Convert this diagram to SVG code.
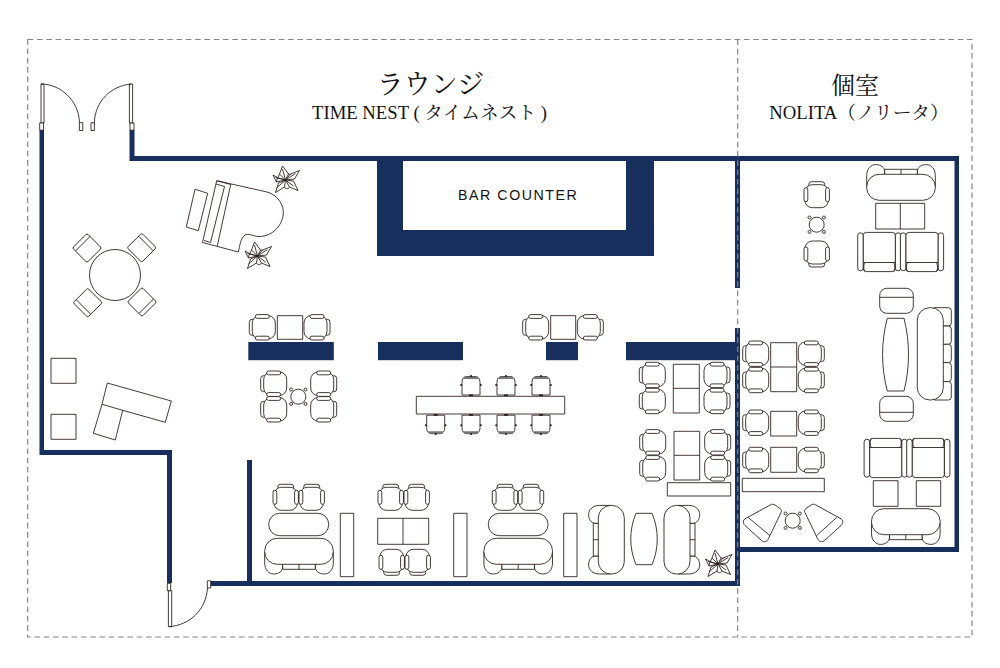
<svg xmlns="http://www.w3.org/2000/svg" xmlns:xlink="http://www.w3.org/1999/xlink" width="1000" height="668" viewBox="0 0 1000 668">
<style>
.f{fill:#fff;stroke:#231815;stroke-width:.85;stroke-linejoin:round}
.n{fill:none;stroke:#231815;stroke-width:.85}
.w{fill:#172f5c;stroke:none}
.d{fill:none;stroke:#858585;stroke-width:1.2;stroke-dasharray:5.6 3.7}
.t{font-family:"Liberation Serif","Noto Serif CJK JP","Noto Sans CJK JP",serif;fill:#111;text-anchor:middle}
.b{font-family:"Liberation Sans",sans-serif;font-size:14.2px;letter-spacing:1.55px;fill:#111;text-anchor:middle}
</style>
<defs>
<g id="chair"><rect class="f" x="-8" y="-13" width="16" height="6" rx="2.8"/><rect class="f" x="-11.8" y="-10" width="23.6" height="23" rx="7.5"/><rect class="f" x="-12.7" y="-7" width="3.8" height="14" rx="1.9"/><rect class="f" x="8.9" y="-7" width="3.8" height="14" rx="1.9"/></g>
<g id="sofa"><path class="f" d="M-34.3,0 V11 C-34.3,18 -30,22 -25.3,22 C-20,22 -16.3,19 -16.3,15 V0Z"/><path class="f" d="M34.3,0 V11 C34.3,18 30,22 25.3,22 C20,22 16.3,19 16.3,15 V0Z"/><rect class="f" x="-16.3" y="10" width="32.6" height="7.3"/><path class="n" d="M0,12 V17.3"/><rect class="f" x="-34.3" y="-13.7" width="68.6" height="26" rx="12.5"/></g>
<g id="big"><rect class="f" x="-21.6" y="-18.8" width="5.6" height="38" rx="2.8"/><rect class="f" x="16" y="-18.8" width="5.6" height="38" rx="2.8"/><rect class="f" x="-16" y="-19.6" width="32" height="39.2" rx="3"/><path class="n" d="M-16,-10.5 H16 M-14,-19.6 C-16,-19 -16,-12 -14,-10.5 M14,-19.6 C16,-19 16,-12 14,-10.5"/></g>
<g id="din"><path class="f" d="M-9,9.5 V-3 C-9,-7 -7,-9 -4,-9 H4 C7,-9 9,-7 9,-3 V9.5 Z"/><path fill="#777" d="M-8,-6.5 C-7,-8.4 -6,-9 -4,-9 H4 C6,-9 7,-8.4 8,-6.5 Z"/><circle cx="-9.8" cy="-.5" r="1" fill="#231815"/><circle cx="9.8" cy="-.5" r="1" fill="#231815"/><circle cx="0" cy="-9.4" r="1" fill="#231815"/><rect x="-2" y="9" width="4" height="1.6" fill="#231815"/></g>
<g id="lchair"><rect class="f" x="-10.3" y="-10.3" width="20.6" height="20.6" rx="1.6"/><path class="n" d="M-10.3,-6 H10.3"/></g>
<g id="stable"><circle class="f" r="7.5"/><circle class="f" cx="-7.2" cy="-7.2" r="1.5"/><circle class="f" cx="7.2" cy="-7.2" r="1.5"/><circle class="f" cx="-7.2" cy="7.2" r="1.5"/><circle class="f" cx="7.2" cy="7.2" r="1.5"/></g>
<g id="plant"><path class="f" d="M0,0 L-6,-6 L-3,-14 L3,-6 Z"/><path class="f" d="M0,0 L-1,7 L-10,12.5 L-7,3 Z"/><path class="f" d="M0,0 L-7,-2 L-12.5,-5 L-9,2 Z"/><path class="f" d="M0,0 L5,-6 L14,-9.5 L9,-1 Z"/><path class="f" d="M0,0 L8,1 L12.5,10.5 L4,7 Z"/><path class="n" d="M0,0 L-9,8 M0,0 L8,6 M0,0 L-10,-2.5 M0,0 L10,-6.5 M0,0 L-3,-11 M-1,7 C0,9.5 3,9 4,7 M-9,2 C-9,-1 -7,-3 -6,-6 M3,-6 C5,-6 6,-5 5,-6"/></g>
</defs>

<rect width="1000" height="668" fill="#fff"/>

<g id="walls">
<path class="w" d="M39.5,130 H44 V450 H172 V583 H167 V455 H39.5 Z"/>
<path class="w" d="M129.5,130 H134.5 V156 H959 V552 H740 V586 H210.5 V581 H247 V460 H252 V581 H735 V328 H740 V547 H954.5 V161 H740 V288 H735 V161 H129.5 Z"/>
<path class="w" d="M377,161 H403 V230 H626 V161 H654 V256 H377 Z"/>
<rect class="w" x="248.3" y="342" width="85.5" height="18.2"/>
<rect class="w" x="378" y="342" width="85" height="18.2"/>
<rect class="w" x="546" y="342" width="32" height="18.2"/>
<rect class="w" x="626" y="342" width="110" height="18.2"/>
</g>

<g id="frame">
<rect class="d" x="27.7" y="39.5" width="944.3" height="597.5"/>
<path class="d" d="M737.7,39.5 V637"/>
</g>

<g id="doors">
<rect class="f" x="41" y="84" width="3" height="39"/><rect class="f" x="39.7" y="123" width="3.8" height="7.2"/>
<path class="n" d="M41,84 C60,84 79,100 79.5,123"/><rect class="f" x="79.4" y="122.7" width="3.4" height="7.8"/>
<rect class="f" x="129.4" y="84" width="3.2" height="39"/><rect class="f" x="130" y="123" width="4" height="7.2"/>
<path class="n" d="M131,84 C111,86 95,101 94.3,123"/><rect class="f" x="91" y="122.7" width="3.4" height="7.8"/>
<rect class="f" x="168.4" y="590.7" width="3.3" height="36"/><rect class="f" x="167.3" y="583.3" width="3.4" height="7.4"/>
<path class="n" d="M169,626.7 C190,625 206,610 207.5,588"/><rect class="f" x="207.3" y="580.8" width="3.4" height="7.2"/>
</g>

<g id="piano">
<path class="f" d="M216.7,180.7 L267,192 C278,195 284,205 283.3,214 C282,227 271,237 258,236.5 C253,236 248,233 245,235 C240,239 240,246 238.3,252 L202.5,242.5 Z"/>
<path class="n" d="M216.7,180.7 L230.7,184.5 L217.3,246 M216,184 L224.5,186.5 L210.5,242.5 L204,240.5"/>
<path class="f" d="M195,189.3 L207.7,193.3 L198.3,230.7 L186.3,227 Z"/>
</g>
<use id="plant1" href="#plant" xlink:href="#plant" transform="translate(285.5,180)"/>
<use id="plant2" href="#plant" xlink:href="#plant" transform="translate(257.5,256)"/>
<use id="plant3" href="#plant" xlink:href="#plant" transform="translate(718,564)"/>

<g id="round-table">
<circle class="f" cx="115" cy="275" r="25.5"/>
<use href="#lchair" xlink:href="#lchair" transform="translate(87,248) rotate(-45)"/>
<use href="#lchair" xlink:href="#lchair" transform="translate(141.7,247.7) rotate(45)"/>
<use href="#lchair" xlink:href="#lchair" transform="translate(87.7,302.7) rotate(-135)"/>
<use href="#lchair" xlink:href="#lchair" transform="translate(142,302) rotate(135)"/>
</g>

<g id="reception">
<rect class="f" x="51" y="358.3" width="25" height="25"/>
<rect class="f" x="51" y="414.3" width="25" height="25"/>
<path class="f" d="M107.3,383 L171.3,401 L165.3,422.3 L122.7,410.3 L115.3,440 L93.3,433.3 L102,404.3 Z"/>
<path class="n" d="M102,404.3 L122.7,410.3"/>
</g>

<g id="bar"><text class="b" x="518.2" y="200">BAR COUNTER</text></g>

<g id="lounge-left">
<use href="#chair" xlink:href="#chair" transform="translate(262.3,327.3) rotate(-90)"/>
<rect class="f" x="277.3" y="315.7" width="25.4" height="23.6"/>
<use href="#chair" xlink:href="#chair" transform="translate(317,327.3) rotate(90)"/>
<use href="#chair" xlink:href="#chair" transform="translate(273.7,383.7) rotate(-90)"/>
<use href="#chair" xlink:href="#chair" transform="translate(273.7,409.3) rotate(-90)"/>
<use href="#chair" xlink:href="#chair" transform="translate(323.7,383.7) rotate(90)"/>
<use href="#chair" xlink:href="#chair" transform="translate(323.7,409.3) rotate(90)"/>
<use href="#stable" xlink:href="#stable" transform="translate(298.3,396.7)"/>
</g>

<g id="lounge-top-mid">
<use href="#chair" xlink:href="#chair" transform="translate(535.7,327.3) rotate(-90)"/>
<rect class="f" x="550.7" y="315.7" width="25" height="23.6"/>
<use href="#chair" xlink:href="#chair" transform="translate(590.3,327.3) rotate(90)"/>
</g>

<g id="long-table">
<use href="#din" xlink:href="#din" transform="translate(471,385.5)"/>
<use href="#din" xlink:href="#din" transform="translate(506,385.5)"/>
<use href="#din" xlink:href="#din" transform="translate(541,385.5)"/>
<use href="#din" xlink:href="#din" transform="translate(435.7,424.7) rotate(180)"/>
<use href="#din" xlink:href="#din" transform="translate(471,424.7) rotate(180)"/>
<use href="#din" xlink:href="#din" transform="translate(506,424.7) rotate(180)"/>
<use href="#din" xlink:href="#din" transform="translate(541,424.7) rotate(180)"/>
<rect class="f" x="416.3" y="396.3" width="148.4" height="17.7"/>
</g>

<g id="lounge-right">
<use href="#chair" xlink:href="#chair" transform="translate(652.3,375) rotate(-90)"/>
<use href="#chair" xlink:href="#chair" transform="translate(652.3,401) rotate(-90)"/>
<use href="#chair" xlink:href="#chair" transform="translate(717,375) rotate(90)"/>
<use href="#chair" xlink:href="#chair" transform="translate(717,401) rotate(90)"/>
<rect class="f" x="673.3" y="364.3" width="26" height="48.7"/><path class="n" d="M673.3,388.3 H699.3"/>
<use href="#chair" xlink:href="#chair" transform="translate(652.7,442.3) rotate(-90)"/>
<use href="#chair" xlink:href="#chair" transform="translate(652.7,468.3) rotate(-90)"/>
<use href="#chair" xlink:href="#chair" transform="translate(717.7,442.3) rotate(90)"/>
<use href="#chair" xlink:href="#chair" transform="translate(717.7,468.3) rotate(90)"/>
<rect class="f" x="674" y="431.3" width="25.7" height="48.7"/><path class="n" d="M674,455.3 H699.7"/>
<rect class="f" x="667.3" y="482.7" width="63.4" height="13.3"/>
</g>

<g id="lounge-bottom">
<use href="#chair" xlink:href="#chair" transform="translate(285.7,497.3)"/>
<use href="#chair" xlink:href="#chair" transform="translate(311.7,497.3)"/>
<rect class="f" x="268.7" y="513.3" width="60" height="22.4" rx="11"/>
<use href="#sofa" xlink:href="#sofa" transform="translate(299,552)"/>
<rect class="f" x="340.3" y="513.3" width="13.4" height="63.4"/>
<use href="#chair" xlink:href="#chair" transform="translate(390.7,497.3)"/>
<use href="#chair" xlink:href="#chair" transform="translate(416.7,497.3)"/>
<rect class="f" x="377.7" y="518.3" width="51" height="26"/><path class="n" d="M403,518.3 V544.3"/>
<use href="#chair" xlink:href="#chair" transform="translate(391.7,562.3) rotate(180)"/>
<use href="#chair" xlink:href="#chair" transform="translate(417.7,562.3) rotate(180)"/>
<rect class="f" x="453.7" y="513.3" width="13.3" height="63.4"/>
<use href="#chair" xlink:href="#chair" transform="translate(505,497.3)"/>
<use href="#chair" xlink:href="#chair" transform="translate(531,497.3)"/>
<rect class="f" x="488.3" y="513.3" width="59.7" height="22.4" rx="11"/>
<use href="#sofa" xlink:href="#sofa" transform="translate(518.2,552)"/>
<rect class="f" x="563.7" y="513.3" width="13.3" height="63.4"/>
<use href="#sofa" xlink:href="#sofa" transform="translate(610.6,539.7) rotate(90)"/>
<path class="f" d="M636,513.3 H652 C659,530 659,548 652,564.7 H636 C629,548 629,530 636,513.3Z"/>
<use href="#sofa" xlink:href="#sofa" transform="translate(677.7,539.7) rotate(-90)"/>
</g>

<g id="private-left">
<use href="#chair" xlink:href="#chair" transform="translate(816.7,194.7)"/>
<use href="#stable" xlink:href="#stable" transform="translate(816.7,224.7)"/>
<use href="#chair" xlink:href="#chair" transform="translate(816.7,254) rotate(180)"/>
<use href="#chair" xlink:href="#chair" transform="translate(755.7,353.7) rotate(-90)"/>
<use href="#chair" xlink:href="#chair" transform="translate(755.7,380) rotate(-90)"/>
<use href="#chair" xlink:href="#chair" transform="translate(811.3,353.7) rotate(90)"/>
<use href="#chair" xlink:href="#chair" transform="translate(811.3,380) rotate(90)"/>
<rect class="f" x="770.7" y="342.7" width="26" height="49"/><path class="n" d="M770.7,367 H796.7"/>
<use href="#chair" xlink:href="#chair" transform="translate(755.7,422.7) rotate(-90)"/>
<use href="#chair" xlink:href="#chair" transform="translate(811.3,422.7) rotate(90)"/>
<rect class="f" x="770.7" y="411.3" width="26" height="24.7"/>
<use href="#chair" xlink:href="#chair" transform="translate(755.7,460) rotate(-90)"/>
<use href="#chair" xlink:href="#chair" transform="translate(811.3,460) rotate(90)"/>
<rect class="f" x="770.7" y="447.3" width="26" height="25"/>
<rect class="f" x="742.3" y="478.3" width="82" height="13.4"/>
<path class="f" d="M745,518.8 L770.5,504.8 C772,504 773.5,504 775,505 L780,508.5 C781.5,509.6 781.8,511 781,512.6 L768.5,538.5 C767,542 764,542.5 761.5,540.5 L745,525.5 C742.8,523.3 742.8,520.3 745,518.8 Z"/>
<path class="n" d="M748.3,517.5 L770,535.7"/>
<use href="#stable" xlink:href="#stable" transform="translate(792.7,520.7)"/>
<path class="f" d="M841,518.8 L815.5,504.8 C814,504 812.5,504 811,505 L806,508.5 C804.5,509.6 804.2,511 805,512.6 L817.5,538.5 C819,542 822,542.5 824.5,540.5 L841,525.5 C843.2,523.3 843.2,520.3 841,518.8 Z"/>
<path class="n" d="M836.7,517.5 L816.5,535.7"/>
</g>

<g id="private-right">
<use href="#sofa" xlink:href="#sofa" transform="translate(901,186.6) rotate(180)"/>
<rect class="f" x="875.7" y="203.3" width="49" height="25.7"/><path class="n" d="M900.3,203.3 V229"/>
<use href="#big" xlink:href="#big" transform="translate(879.3,252) rotate(180)"/>
<use href="#big" xlink:href="#big" transform="translate(922,252) rotate(180)"/>
<rect class="f" x="879.7" y="288.3" width="33.6" height="25" rx="7"/><path class="n" d="M879.7,297.3 H913.3"/>
<path class="f" d="M887.3,318.3 H904 C910,342 910,367 904,391 H887.3 C881,367 881,342 887.3,318.3Z"/>
<rect class="f" x="879.7" y="396.3" width="33.6" height="25" rx="7"/><path class="n" d="M879.7,412.3 H913.3"/>
<rect class="f" x="932" y="307.7" width="19.3" height="18.3" rx="3"/>
<rect class="f" x="932" y="326" width="19.3" height="18.3" rx="3"/>
<rect class="f" x="932" y="344.3" width="19.3" height="18.3" rx="3"/>
<rect class="f" x="932" y="362.6" width="19.3" height="19" rx="3"/>
<rect class="f" x="932" y="381.6" width="19.3" height="18.4" rx="3"/>
<rect class="f" x="917.3" y="307.7" width="26" height="92.3" rx="12.5"/>
<use href="#big" xlink:href="#big" transform="translate(885.7,458)"/>
<use href="#big" xlink:href="#big" transform="translate(928.3,458)"/>
<rect class="f" x="873.3" y="480.7" width="24.7" height="25.6"/>
<rect class="f" x="916.3" y="480.7" width="24.4" height="25.6"/>
<use href="#sofa" xlink:href="#sofa" transform="translate(905.8,522.4)"/>
</g>

<g id="labels">
<text class="t" x="430.5" y="94" font-size="27">ラウンジ</text>
<text class="t" x="429.5" y="119" font-size="18.7">TIME NEST ( タイムネスト )</text>
<text class="t" x="855" y="94" font-size="24">個室</text>
<text class="t" x="859" y="119" font-size="18.7">NOLITA（ノリータ）</text>
</g>
</svg>
